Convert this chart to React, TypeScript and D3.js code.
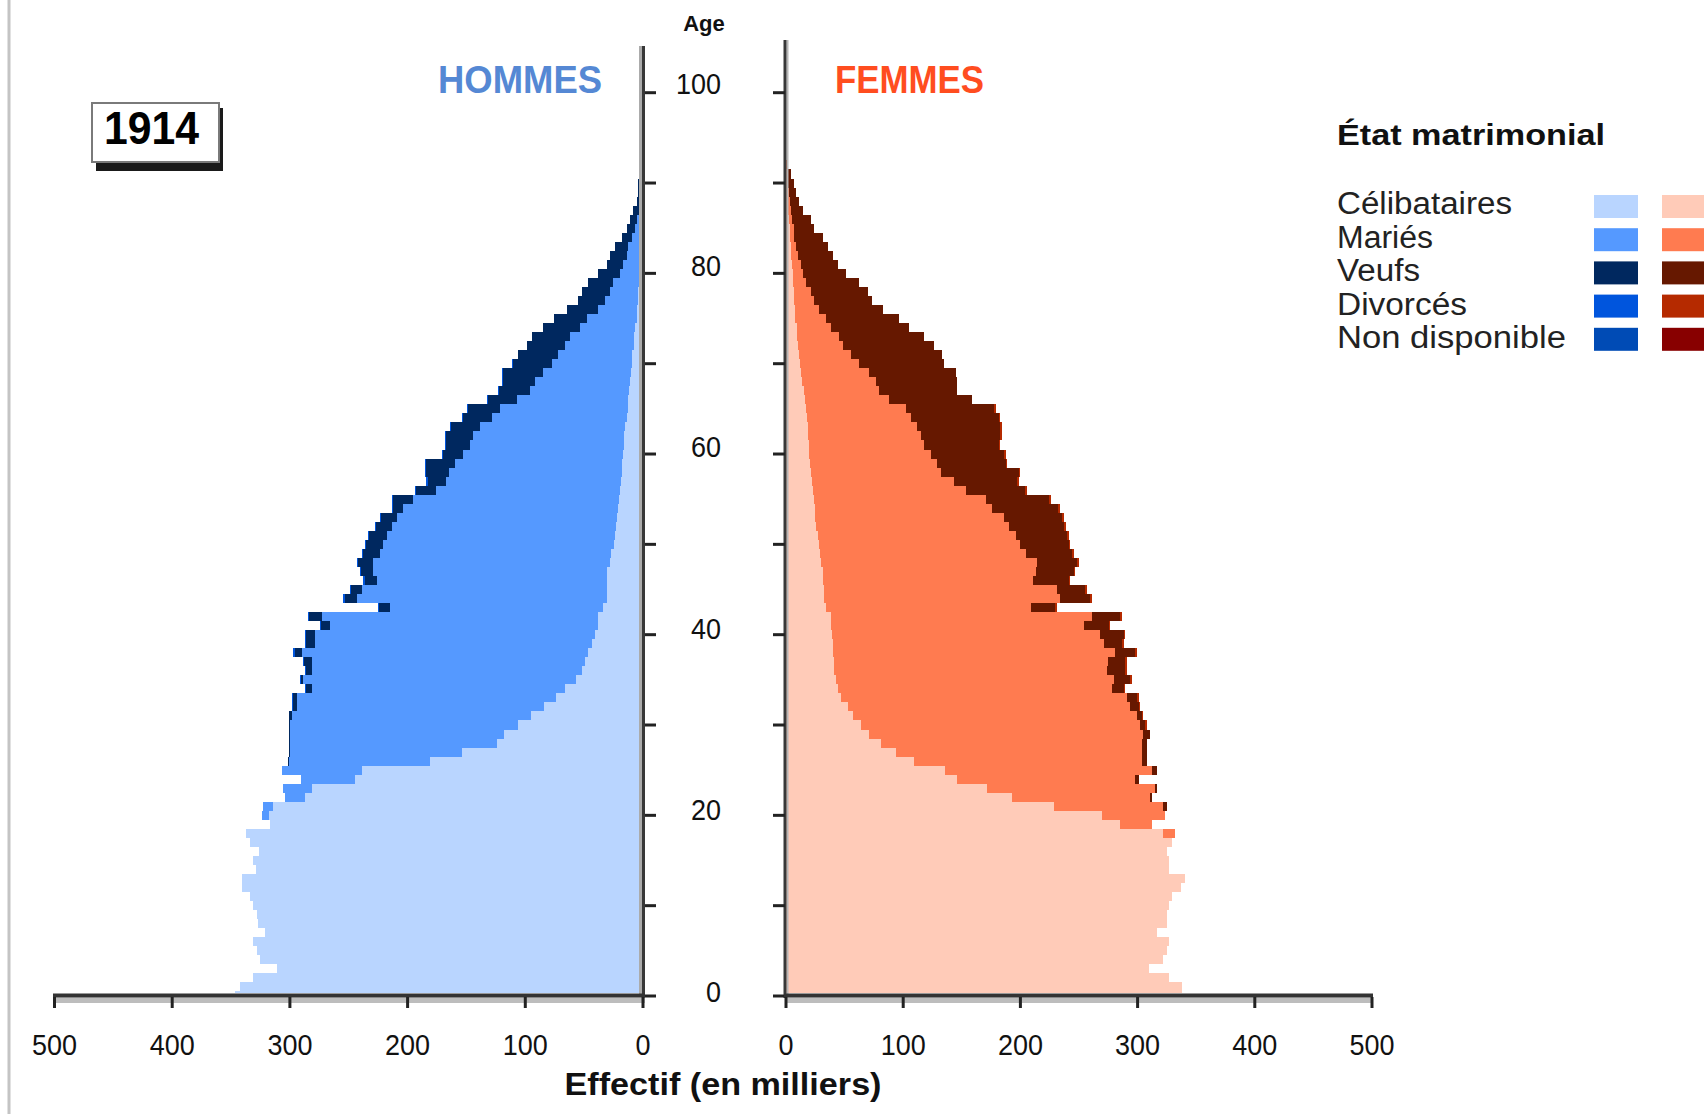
import React from 'react';
import * as d3 from 'd3';

const W = 1704;
const H = 1114;

// ---------- DATA (thousands, by single year of age 0..92) ----------
const maleCelib = [347,342,331,311,325,328,331,321,327,328,
 331,334,341,341,329,331,326,334,337,317,
 318,314,287,281.5,244.7,239,181,154,124,118,
 106,95,84,74,66,57,52,49,46.5,43.6,
 40.8,38,38,33.7,31,31,31,31,28,27,
 25,24,23,22,21,20,19.5,19,18,17.5,
 17,16.5,16,15,14,13,12.5,12,11,10.5,
 9.6,9,8,7.5,6.5,5.5,5,4.5,4,3.5,
 3,2.5,2,2,1.5,1.2,1,0.8,0.6,0.5,
 0.4,0.3,0.2];
const maleMaries = [0,0,0,0,0,0,0,0,0,0,
 0,0,0,0,0,0,0,0,0,0,
 6,8.6,17,24,46,68,120,146,176,182,
 194,203.5,210,220,215.5,231.6,229.5,232.5,243.5,235,
 238,228,235,181.3,212,208,195,198,201,196.5,
 195.6,193.8,190.5,187.3,182.6,175,156.5,148,147,142.5,
 135.7,130.5,128.2,123.5,114.5,108.5,94.8,84,80.8,74.2,
 68,63,58.3,54.5,47,42.3,33,27.8,24,21.7,
 16.5,14.2,11.9,10.5,8.1,5.6,4.4,2.7,1.9,1.3,
 0.8,0.5,0.3];
const maleVeufs = [0,0,0,0,0,0,0,0,0,0,
 0,0,0,0,0,0,0,0,0,0,
 0,0,0,0,0,0,0.3,1,0.5,1,
 1,2,3.5,3.5,4.5,1.8,4.5,6.1,6,7.3,
 7.3,7.4,10.4,9,10.6,9,10.6,10.4,13.3,14.5,
 14.4,14.6,13.2,13.2,8.9,17.5,17,16,19,24,
 17.3,20,22.8,24.5,24.5,27.3,24.5,26,27.2,34.3,
 33,34,32.5,32.6,31.2,28.2,26.8,22.7,24,21.3,
 18.5,14.1,14.1,11.3,8.4,7.1,5.6,4.7,2.9,2.2,
 2.8,1.7,1.2];
const maleDivorces = [0,0,0,0,0,0,0,0,0,0,
 0,0,0,0,0,0,0,0,0,0,
 0,0,0,0,0,0,0,0,0,0,
 0,0,1,1,1,1,1,1,1,1,
 1,1,1,1,1,1,1,1,1,1,
 1,1,1,1,1,1,1,1,1,1,
 1,1,1,1,1,1,1,1,1,1,
 1,0,0,0,0,0,0,0,0,0,
 0,0,0,0,0,0,0,0,0,0,
 0,0,0];

const femCelib = [338,338,326.5,309.4,322,325,326.5,316.6,325,325,
 326.5,329,337,340.7,327,326.5,325,329,322,285,
 270,228.5,193,171.8,146,136,109,93.7,81,71,
 64,57,52.5,46.8,44,42.6,41,41,40,39.7,
 39,38.3,38.3,34,32.6,32.6,31.2,31.2,30,29,
 28,27,26,25,24.5,24,23,22,21,20.5,
 20,19.5,19,18.5,17.5,17,16,15,14,13,
 12,11.4,10.5,9.5,9,8,7.5,7,6.5,6,
 5.7,5,4.5,4,3.5,3,2.5,2,1.5,1.2,
 1,0.7,0.3];
const femMariees = [0,0,0,0,0,0,0,0,0,0,
 0,0,0,0,0,0,0,0,10,27,
 53.7,93.5,118,143.2,152,176,194.8,210.1,222.8,234,
 238.4,242.5,241.3,244.2,234,237,233,234,241,231.3,
 229,215.7,222.7,174.7,201.4,198.4,179.8,181.8,184,176,
 171.6,169,164.2,161,151.5,146.3,130.3,121.4,111,108.7,
 103.5,98.3,96,93.7,89,85.2,72,64.5,62.7,58,
 50.4,44,37.8,35.9,29.3,26,20.9,17,14.8,11,
 8.5,7.8,5.5,4.5,3.5,3.5,2.5,2,1.5,1,
 0.8,0.5,0.3];
const femVeuves = [0,0,0,0,0,0,0,0,0,0,
 0,0,0,0,0,0,0,0,0,0,
 0,3,1,1.6,3,4.6,4.2,4.2,4.2,6,
 4.1,4,7.1,8.5,10.1,14.2,15.5,14.5,17,15.5,
 20.1,21.3,24.3,20.8,25.5,24.5,30.2,32.5,34.3,39,
 41.6,43.8,46.8,49.5,56.5,53.9,51,53.8,66.5,58.1,
 62.4,63.7,68,70.8,75,75.1,71,66.7,69.5,73.8,
 72.4,78,78,72.4,66.7,62.5,54,49.8,48.3,45.4,
 36.8,31.2,29.7,27,24.2,17.5,16.3,10.2,8.3,6.3,
 5.2,3.1,1.5];
const femDivorces = [0,0,0,0,0,0,0,0,0,0,
 0,0,0,0,0,0,0,0,0,0,
 0,0,0,0,0,0,0,0,0,0,
 1.5,1.5,1.5,1.5,1.5,1.5,1.5,1.5,1.5,1.5,
 1.5,1.5,1.5,1.5,1.5,1.5,1.5,1.5,1.5,1.5,
 1.5,1.5,1.5,1.5,1.5,1.5,1.5,1.5,1.5,1.5,
 1.5,1.5,1.5,1.5,1.5,1.5,0,0,0,0,
 0,0,0,0,0,0,0,0,0,0,
 0,0,0,0,0,0,0,0,0,0,
 0,0,0];

const statusLabels = ['Célibataires', 'Mariés', 'Veufs', 'Divorcés', 'Non disponible'];
const statusKeys = ['celib', 'maries', 'veufs', 'divorces', 'nd'];
const maleColors = ['#b9d5ff', '#5599ff', '#00285f', '#0055dd', '#004bb5'];
const femColors = ['#ffcbb8', '#ff7b50', '#661800', '#b52a00', '#880000'];
const xTicks = [0, 100, 200, 300, 400, 500];
const ageTicks = [0, 10, 20, 30, 40, 50, 60, 70, 80, 90, 100];
const ageLabels = [0, 20, 40, 60, 80, 100];
const legendWidths = [175, 96, 83, 130, 229];

const FONT = '"Liberation Sans", Arial, sans-serif';

function buildRows(c: number[], m: number[], v: number[], d: number[]) {
  return c.map((_, i) => ({ age: i, celib: c[i], maries: m[i], veufs: v[i], divorces: d[i], nd: 0 }));
}

export default function App() {
  const xL = d3.scaleLinear().domain([0, 500]).range([643, 54.5]);
  const xR = d3.scaleLinear().domain([0, 500]).range([786, 1372]);
  const y = d3.scaleLinear().domain([0, 100]).range([996, 92.7]);
  const yLab = d3.scaleLinear().domain([0, 100]).range([1002, 94]);

  const stack = d3.stack<any>().keys(statusKeys);
  const mSeries = stack(buildRows(maleCelib, maleMaries, maleVeufs, maleDivorces));
  const fSeries = stack(buildRows(femCelib, femMariees, femVeuves, femDivorces));

  const bars: React.ReactNode[] = [];
  mSeries.forEach((s, k) => {
    s.forEach((d: any) => {
      if (d[1] - d[0] <= 0) return;
      const a = d.data.age;
      bars.push(<rect key={`m${k}-${a}`} x={xL(d[1])} width={xL(d[0]) - xL(d[1])}
        y={y(a + 0.5)} height={y(a - 0.5) - y(a + 0.5)} fill={maleColors[k]} />);
    });
  });
  fSeries.forEach((s, k) => {
    s.forEach((d: any) => {
      if (d[1] - d[0] <= 0) return;
      const a = d.data.age;
      bars.push(<rect key={`f${k}-${a}`} x={xR(d[0])} width={xR(d[1]) - xR(d[0])}
        y={y(a + 0.5)} height={y(a - 0.5) - y(a + 0.5)} fill={femColors[k]} />);
    });
  });

  const tl = (t: number) => String(t).length * 15;

  return (
    <svg width={W} height={H} style={{ position: 'absolute', left: 0, top: 0, background: '#fff' }}
      fontFamily={FONT}>
      <defs>
        <clipPath id="plotClip"><rect x={0} y={0} width={W} height={993} /></clipPath>
      </defs>
      <rect x={0} y={0} width={W} height={H} fill="#fff" />
      <rect x={7.5} y={0} width={3} height={H} fill="#c4c4c4" />

      <g clipPath="url(#plotClip)" shapeRendering="crispEdges">{bars}</g>

      <rect x={639} y={46} width={3} height={950} fill="#ababab" />
      <line x1={643.5} x2={643.5} y1={46} y2={998} stroke="#383838" strokeWidth={3} />
      <rect x={786.5} y={40} width={2} height={956} fill="#b5b5b5" />
      <line x1={785} x2={785} y1={40} y2={998} stroke="#383838" strokeWidth={3} />
      {ageTicks.map(t => (
        <g key={`at${t}`}>
          <line x1={645} x2={656} y1={y(t)} y2={y(t)} stroke="#222" strokeWidth={3} />
          <line x1={773} x2={785} y1={y(t)} y2={y(t)} stroke="#222" strokeWidth={3} />
        </g>
      ))}
      {ageLabels.map(t => (
        <text key={`al${t}`} x={721} y={yLab(t)} textAnchor="end" fontSize={29} fill="#111"
          textLength={tl(t)} lengthAdjust="spacingAndGlyphs">{t}</text>
      ))}
      <text x={704} y={31} textAnchor="middle" fontSize={22} fontWeight="bold" fill="#111">Age</text>

      <rect x={54} y={997.5} width={591} height={5.5} fill="#bdbdbd" />
      <line x1={53} x2={645} y1={995.5} y2={995.5} stroke="#333" strokeWidth={4} />
      <rect x={785} y={997.5} width={588} height={5.5} fill="#bdbdbd" />
      <line x1={784} x2={1373} y1={995.5} y2={995.5} stroke="#333" strokeWidth={4} />
      {xTicks.map(t => (
        <g key={`xt${t}`}>
          <line x1={xL(t)} x2={xL(t)} y1={997} y2={1008} stroke="#222" strokeWidth={3} />
          <text x={xL(t)} y={1055} textAnchor="middle" fontSize={29} fill="#111"
            textLength={tl(t)} lengthAdjust="spacingAndGlyphs">{t}</text>
          <line x1={xR(t)} x2={xR(t)} y1={997} y2={1008} stroke="#222" strokeWidth={3} />
          <text x={xR(t)} y={1055} textAnchor="middle" fontSize={29} fill="#111"
            textLength={tl(t)} lengthAdjust="spacingAndGlyphs">{t}</text>
        </g>
      ))}
      <text x={723} y={1095} textAnchor="middle" fontSize={32} fontWeight="bold" fill="#111"
        textLength={317} lengthAdjust="spacingAndGlyphs">Effectif  (en milliers)</text>

      <text x={438} y={93} fontSize={38} fontWeight="bold" fill="#5588d4"
        textLength={164} lengthAdjust="spacingAndGlyphs">HOMMES</text>
      <text x={835} y={93} fontSize={38} fontWeight="bold" fill="#ff4d1f"
        textLength={149} lengthAdjust="spacingAndGlyphs">FEMMES</text>

      <rect x={96} y={108} width={127} height={63} fill="#1a1a1a" />
      <rect x={92} y={103} width={127} height={59} fill="#fff" stroke="#7a7a7a" strokeWidth={2} />
      <text x={104} y={144} fontSize={46} fontWeight="bold" fill="#000"
        textLength={95} lengthAdjust="spacingAndGlyphs">1914</text>

      <text x={1337} y={145} fontSize={30} fontWeight="bold" fill="#111"
        textLength={268} lengthAdjust="spacingAndGlyphs">État matrimonial</text>
      {statusLabels.map((lab, i) => (
        <g key={`lg${i}`}>
          <text x={1337} y={214 + i * 33.5} fontSize={31} fill="#222"
            textLength={legendWidths[i]} lengthAdjust="spacingAndGlyphs">{lab}</text>
          <rect x={1594} y={195 + i * 33.2} width={44} height={23} fill={maleColors[i]} />
          <rect x={1662} y={195 + i * 33.2} width={44} height={23} fill={femColors[i]} />
        </g>
      ))}
    </svg>
  );
}
